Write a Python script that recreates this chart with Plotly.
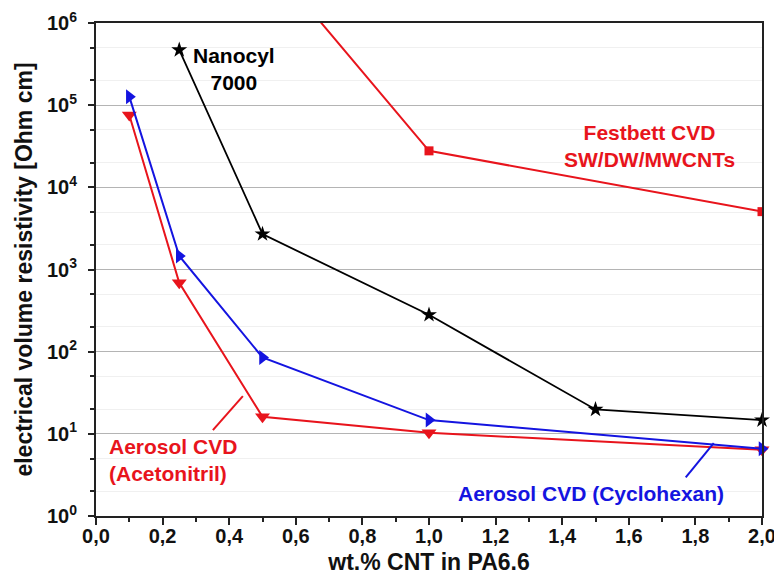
import plotly.graph_objects as go

# Data
x_nanocyl = [0.25, 0.5, 1.0, 1.5, 2.0]
y_nanocyl = [4.7e5, 2.7e3, 281, 19.8, 14.7]

x_festbett = [0.5, 1.0, 2.0]
y_festbett = [7.1e6, 2.78e4, 5.06e3]

x_cyclo = [0.1, 0.25, 0.5, 1.0, 2.0]
y_cyclo = [1.27e5, 1460, 85, 14.7, 6.6]

x_aceto = [0.1, 0.25, 0.5, 1.0, 2.0]
y_aceto = [7.6e4, 690, 16.1, 10.3, 6.4]

y_tickvals = [1, 10, 100, 1e3, 1e4, 1e5, 1e6]
y_ticktext = ["10<sup>0</sup>", "10<sup>1</sup>", "10<sup>2</sup>", "10<sup>3</sup>",
              "10<sup>4</sup>", "10<sup>5</sup>", "10<sup>6</sup>"]

RED = "#e8141c"
BLUE = "#1414e0"
BLACK = "#000000"
FONT = "Liberation Sans"

fig = go.Figure()
fig.add_trace(go.Scatter(x=x_festbett, y=y_festbett, mode="lines+markers",
                         line=dict(color=RED, width=2),
                         marker=dict(symbol="square", size=9, color=RED),
                         cliponaxis=True, showlegend=False))
fig.add_trace(go.Scatter(x=x_nanocyl, y=y_nanocyl, mode="lines+markers",
                         line=dict(color=BLACK, width=1.8),
                         marker=dict(symbol="star", size=12, color=BLACK),
                         cliponaxis=False, showlegend=False))
fig.add_trace(go.Scatter(x=x_aceto, y=y_aceto, mode="lines+markers",
                         line=dict(color=RED, width=2),
                         marker=dict(symbol="triangle-down", size=13, color=RED),
                         cliponaxis=False, showlegend=False))
fig.add_trace(go.Scatter(x=x_cyclo, y=y_cyclo, mode="lines+markers",
                         line=dict(color=BLUE, width=2),
                         marker=dict(symbol="triangle-right", size=13, color=BLUE),
                         cliponaxis=False, showlegend=False))

annot_font = dict(family=FONT, size=21, weight=700)
fig.add_annotation(x=0.414, y=5.44, xref="x", yref="y", text="Nanocyl<br>7000",
                   showarrow=False, align="center",
                   font=dict(**annot_font, color=BLACK))
fig.add_annotation(x=1.661, y=4.5, xref="x", yref="y", text="Festbett CVD<br>SW/DW/MWCNTs",
                   showarrow=False, align="center",
                   font=dict(**annot_font, color=RED))
fig.add_annotation(x=0.033, y=0.68, xref="x", yref="y", text="Aerosol CVD<br>(Acetonitril)",
                   showarrow=False, align="left", xanchor="left",
                   font=dict(**annot_font, color=RED))
fig.add_annotation(x=1.081, y=0.27, xref="x", yref="y", text="Aerosol CVD (Cyclohexan)",
                   showarrow=False, align="left", xanchor="left",
                   font=dict(**annot_font, color=BLUE))

# pointer lines (shapes on a log axis use data values)
fig.add_shape(type="line", xref="x", yref="y", x0=0.351, y0=11.1, x1=0.441, y1=28.7,
              line=dict(color=RED, width=2))
fig.add_shape(type="line", xref="x", yref="y", x0=1.771, y0=2.96, x1=1.855, y1=7.69,
              line=dict(color=BLUE, width=2))

tick_font = dict(family=FONT, size=20, weight=700, color="#111")
title_font = dict(family=FONT, size=23, weight=700, color="#111")

# the page body adds an 8px offset, so the figure is 8px smaller on each axis
fig.update_layout(
    width=774, height=568,
    margin=dict(l=88, r=20, t=15, b=60),
    paper_bgcolor="white", plot_bgcolor="white",
    separators=",.",
    font=dict(family=FONT, color="#111111"),
    xaxis=dict(range=[0, 2], dtick=0.2, tick0=0, tickformat=".1f",
               showline=True, linecolor="#222", linewidth=2, mirror=True,
               ticks="outside", ticklen=7, tickwidth=2, tickcolor="#222",
               minor=dict(dtick=0.1, ticks="outside", ticklen=4, tickwidth=2, tickcolor="#222"),
               showgrid=False, zeroline=False, automargin=False,
               ticklabelstandoff=-6,
               tickfont=tick_font,
               title=dict(text="wt.% CNT in PA6.6", standoff=8, font=title_font)),
    yaxis=dict(type="log", range=[0, 6], tickvals=y_tickvals, ticktext=y_ticktext,
               showline=True, linecolor="#222", linewidth=2, mirror=True,
               ticks="outside", ticklen=6, tickwidth=2, tickcolor="#222",
               showgrid=True, gridcolor="#b4b4b4", gridwidth=1,
               minor=dict(ticks="outside", ticklen=4, tickwidth=1.5, tickcolor="#222",
                          showgrid=True, gridcolor="#f0f0f0", gridwidth=1),
               zeroline=False, automargin=False,
               ticklabelstandoff=7,
               tickfont=tick_font,
               title=dict(text="electrical volume resistivity [Ohm cm]", standoff=8,
                          font=title_font)),
)

fig.write_html("out.html")
